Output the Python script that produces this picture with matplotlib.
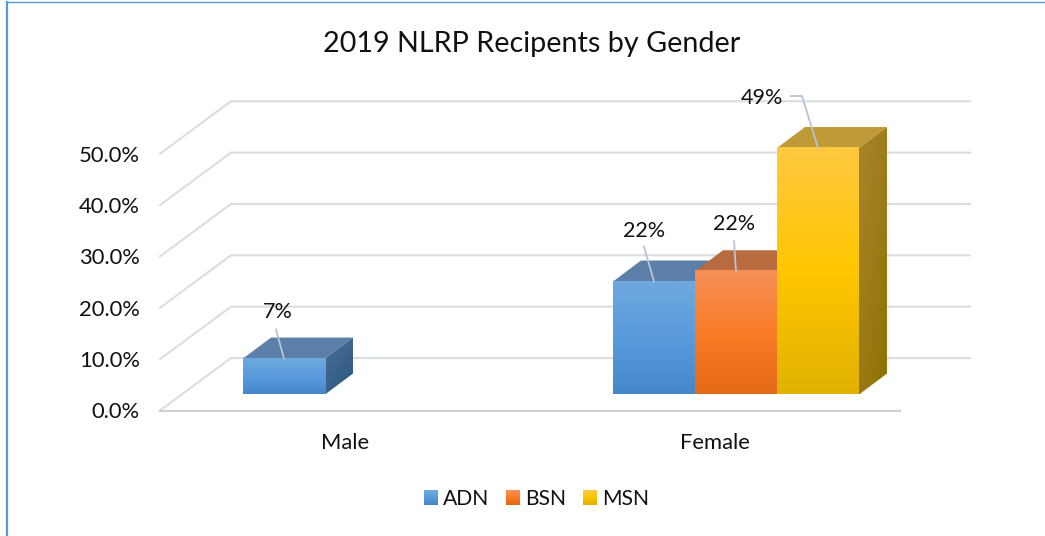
import numpy as np
from matplotlib import pyplot
from matplotlib.legend_handler import HandlerBase
from matplotlib.lines import Line2D
from matplotlib.patches import Patch, Polygon, Rectangle


#(0) Data:
TITLE      = '2019 NLRP Recipents by Gender'
CATEGORIES = ['Male', 'Female']
SERIES     = ['ADN', 'BSN', 'MSN']
ADN        = [7.0, 22.0]
BSN        = [np.nan, 24.0]
MSN        = [np.nan, 48.0]
ADN_LABELS = ['7%', '22%']
BSN_LABELS = ['', '22%']
MSN_LABELS = ['', '49%']
YTICKS     = [0, 10, 20, 30, 40, 50]


#(1) Styles and layout (pixels):
W,H       = 1045, 536
AX_L,AX_R = 160, 900
AX_B,AX_T = 410.5, 153.75
XPX       = (AX_R - AX_L) / 2.0      # pixels per category
YPX       = (AX_B - AX_T) / 50.0     # pixels per percent
BARW      = 82 / XPX
WALL      = 71 / XPX, 52.5 / YPX     # depth of the whole chart box
DEPTH     = 28 / XPX, 21 / YPX       # depth of a bar
SHIFT     = 21 / XPX, 16 / YPX       # bars stand inside the floor
GRID      = '#dadde2'
LEADER    = '#b8c4d4'
TEXT      = '#111111'
FONT      = 'Lato'

STYLES = dict(
	ADN = dict(front=['#6fa8df','#5a9bdc','#4588ca'], top='#5b7fa8', side=['#4c7096','#2a5682']),
	BSN = dict(front=['#f68f57','#f97c27','#e56a17'], top='#b96b40', side=['#a85c30','#8a4a20']),
	MSN = dict(front=['#ffc940','#ffc600','#e2b203'], top='#bf9a36', side=['#a98530','#8f7200']),
)
### label offset from the top-centre of the bar front, then leader points (pixels):
LABEL_OFFSETS = {
	('ADN',0): ((-6, 47), [(-8, 29), (0, 0)]),
	('ADN',1): ((-10, 51), [(-10, 35), (0, 0)]),
	('BSN',1): ((-2, 47), [(-2, 30), (0, 0)]),
	('MSN',1): ((-56, 50), [(-27, 52), (-16, 52), (0, 0)]),
}


def hex2rgb(c):
	return np.array([int(c[i:i+2], 16) / 255. for i in (1,3,5)])

def vgrad(colors, n=64):
	t = np.linspace(0, 1, n)
	rgb = np.array([hex2rgb(c) for c in colors])
	tt = np.linspace(0, 1, len(colors))
	return np.array([np.interp(t, tt, rgb[:,k]) for k in range(3)]).T

def bar3d(ax, x0, v, style, z):
	x1,y0,y1 = x0 + BARW, SHIFT[1], SHIFT[1] + v
	dx,dy = DEPTH
	### top:
	ax.add_patch(Polygon([(x0,y1),(x1,y1),(x1+dx,y1+dy),(x0+dx,y1+dy)], closed=True, fc=style['top'], ec='none', zorder=z, clip_on=False))
	### side, darker toward the lower right:
	c0,c1 = hex2rgb(style['side'][0]), hex2rgb(style['side'][1])
	u,w = np.meshgrid(np.linspace(0,1,24), np.linspace(0,1,64))
	t = (0.4*u + 0.6*w)[:,:,None]
	im = ax.imshow(c0*(1-t) + c1*t, extent=(x1,x1+dx,y0,y1+dy), aspect='auto', zorder=z, interpolation='bilinear')
	poly = Polygon([(x1,y0),(x1+dx,y0+dy),(x1+dx,y1+dy),(x1,y1)], closed=True, transform=ax.transData)
	im.set_clip_path(poly)
	im.set_clip_box(ax.figure.bbox)
	### front:
	im = ax.imshow(vgrad(style['front'])[:,None,:], extent=(x0,x1,y0,y1), aspect='auto', zorder=z+0.1, interpolation='bilinear')
	im.set_clip_on(False)


class GradientHandler(HandlerBase):
	def create_artists(self, legend, orig, xd, yd, width, height, fontsize, trans):
		cols = vgrad(STYLES[orig.get_label()]['front'], 14)
		h = width
		s = []
		for i,c in enumerate(cols):
			y = -yd + height / 2. + h / 2. - h * (i + 1) / len(cols)
			s.append(Rectangle((-xd, y), h, h / len(cols) + 0.2, fc=c, ec='none', transform=trans))
		return s


#(2) Plot
pyplot.rcParams['font.family'] = FONT
fig = pyplot.figure(figsize=(W/100., H/100.), dpi=100)
ax = fig.add_axes([AX_L/W, 1-AX_B/H, (AX_R-AX_L)/W, (AX_B-AX_T)/H])

### walls and floor:
for y in YTICKS:
	ax.plot([-0.5, -0.5+WALL[0], (970-AX_L)/XPX-0.5], [y, y+WALL[1], y+WALL[1]], color=GRID, lw=1.5, zorder=1, clip_on=False, solid_joinstyle='miter')
ax.plot([-0.5, 1.5], [0, 0], color='#cdd0d6', lw=1.5, zorder=1.5, clip_on=False)

### bars:
values = dict(ADN=ADN, BSN=BSN, MSN=MSN)
labels = dict(ADN=ADN_LABELS, BSN=BSN_LABELS, MSN=MSN_LABELS)
for i,name in enumerate(SERIES):
	for j,v in enumerate(values[name]):
		if np.isnan(v):
			continue
		x0 = j + (i - 1.5) * BARW + SHIFT[0]
		bar3d(ax, x0, v, STYLES[name], 2 + i)
		### data labels with leader lines:
		top = x0 + BARW / 2., v + SHIFT[1]
		(tx,ty),pts = LABEL_OFFSETS[(name,j)]
		xs = [top[0] + p[0] / XPX for p in pts]
		ys = [top[1] + p[1] / YPX for p in pts]
		ax.plot(xs, ys, color=LEADER, lw=1.3, zorder=6, clip_on=False)
		ax.text(top[0] + tx / XPX, top[1] + ty / YPX, labels[name][j], ha='center', va='center', size=15.5, color=TEXT, zorder=7, clip_on=False)

ax.set_xlim(-0.5, 1.5)
ax.set_ylim(0, 50)
ax.set_xticks(range(len(CATEGORIES)))
ax.set_xticklabels(CATEGORIES)
ax.set_yticks(YTICKS)
ax.set_yticklabels(['%.1f%%' % y for y in YTICKS])
ax.tick_params(axis='both', length=0, labelsize=15.8, labelcolor=TEXT)
ax.tick_params(axis='y', pad=14.5)
ax.tick_params(axis='x', pad=16)
ax.patch.set_visible(False)
[s.set_visible(False) for s in ax.spines.values()]

fig.text(532/W, 1-44/H, TITLE, ha='center', va='center', size=20.7, color=TEXT)

handles = [Patch(label=s) for s in SERIES]
fig.legend(handles=handles, labels=SERIES, loc='center', bbox_to_anchor=(536.5/W, 1-499/H), ncol=3, frameon=False,
	fontsize=15.2, labelcolor=TEXT, handler_map={Patch:GradientHandler()}, handlelength=0.66, handletextpad=0.25, columnspacing=0.8)

### chart border (open on the right and the bottom):
fig.add_artist(Line2D([7/W, 7/W], [0, 1-2/H], color='#5b9bd5', lw=1.6))
fig.add_artist(Line2D([7/W, 1], [1-2/H, 1-2/H], color='#5b9bd5', lw=1.0))

pyplot.savefig('out.png', dpi=100)
